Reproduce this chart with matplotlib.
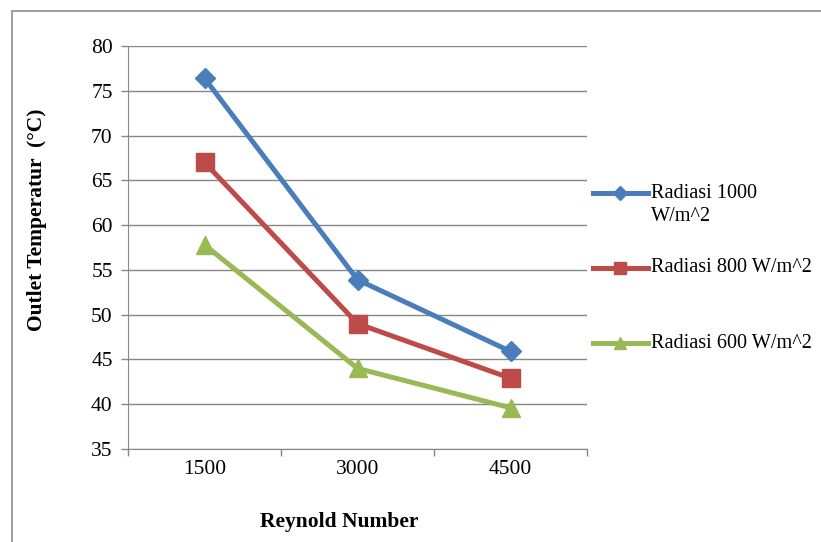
import matplotlib.pyplot as plt
from matplotlib.lines import Line2D
from matplotlib.patches import Rectangle

plt.rcParams['font.family'] = ['Liberation Serif', 'DejaVu Serif']

reynold = ['1500', '3000', '4500']
rad1000 = [76.4, 53.9, 45.9]
rad800 = [67.0, 49.0, 42.9]
rad600 = [57.8, 44.0, 39.6]
labels = ['Radiasi 1000\nW/m^2', 'Radiasi 800 W/m^2', 'Radiasi 600 W/m^2']
colors = ['#4A7EBB', '#BE4B48', '#98B954']
markers = ['D', 's', '^']
msizes = [10, 13, 13]

W, H = 821, 542
fs = 15.5
fig = plt.figure(figsize=(W / 100, H / 100), dpi=100)
ax = fig.add_axes([128 / W, 1 - 449 / H, (587 - 128) / W, 403 / H])

x = range(len(reynold))
for ys, c, m, ms in zip([rad1000, rad800, rad600], colors, markers, msizes):
    ax.plot(x, ys, color=c, lw=3.6, marker=m, markersize=ms, zorder=3)

# kotak luar
fig.add_artist(Rectangle((12 / W, -0.1), 2, 1 - 11 / H + 0.1, transform=fig.transFigure,
                         fill=False, edgecolor='#8c8c8c', lw=1.2))

ax.set_xlim(-0.5, 2.5)
ax.set_ylim(35, 80)
ax.set_yticks(range(35, 81, 5))
ax.set_xticks([-0.5, 0.5, 1.5, 2.5])
ax.set_xticklabels([])
ax.set_xticks([0, 1, 2], minor=True)
ax.set_xticklabels(reynold, minor=True)
ax.tick_params(axis='x', which='minor', length=0, pad=8, labelsize=fs)
ax.tick_params(axis='x', which='major', length=5, color='#868686', width=1)
ax.tick_params(axis='y', length=5, color='#868686', width=1, labelsize=fs, pad=6)
ax.grid(axis='y', color='#868686', lw=1)
ax.set_axisbelow(True)
for s in ['top', 'right']:
    ax.spines[s].set_visible(False)
for s in ['left', 'bottom']:
    ax.spines[s].set_color('#868686')

fig.text(339 / W, 1 - 522 / H, 'Reynold Number', ha='center', va='center',
         fontsize=fs, fontweight='bold')
fig.text(37 / W, 1 - 220 / H, 'Outlet Temperatur  (°C)', ha='center', va='center',
         rotation=90, fontsize=fs, fontweight='bold')

# legenda
leg_y = [193, 268, 343]
for yy, lab, c, m in zip(leg_y, labels, colors, markers):
    yf = 1 - yy / H
    fig.add_artist(Line2D([593 / W, 648 / W], [yf, yf], transform=fig.transFigure,
                          color=c, lw=3.6))
    fig.add_artist(Line2D([620 / W], [yf], transform=fig.transFigure, color=c,
                          marker=m, markersize=7 if m == 'D' else 9))
    for i, baris in enumerate(lab.split('\n')):
        fig.text(651 / W, yf - i * 24 / H, baris, ha='left', va='center', fontsize=14.6)

fig.savefig('out.png', dpi=100)
